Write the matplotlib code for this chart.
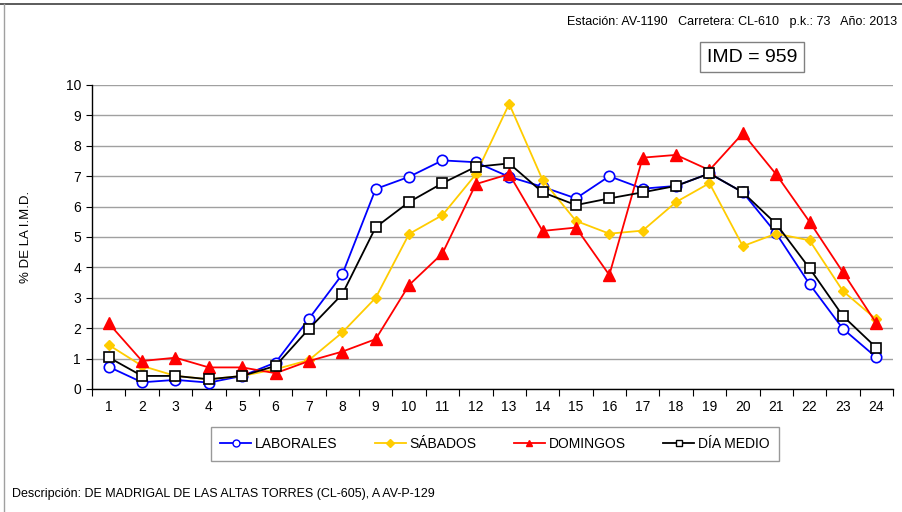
import matplotlib
matplotlib.use("Agg")
import matplotlib.pyplot as plt
from matplotlib.lines import Line2D

plt.rcParams['font.family'] = ['Liberation Sans', 'DejaVu Sans']

hours = list(range(1, 25))
hour_labels = [str(h) for h in hours]
laborales = [0.73, 0.22, 0.30, 0.21, 0.43, 0.87, 2.31, 3.77, 6.58, 6.98, 7.52, 7.46,
             6.98, 6.65, 6.27, 7.00, 6.59, 6.68, 7.09, 6.47, 5.12, 3.45, 1.98, 1.04]
sabados = [1.45, 0.76, 0.43, 0.32, 0.43, 0.65, 0.95, 1.86, 3.00, 5.10, 5.72, 7.06,
           9.38, 6.88, 5.53, 5.11, 5.21, 6.15, 6.77, 4.70, 5.11, 4.89, 3.22, 2.29]
domingos = [2.16, 0.92, 1.03, 0.71, 0.71, 0.52, 0.92, 1.23, 1.64, 3.42, 4.46, 6.74,
            7.07, 5.20, 5.31, 3.75, 7.61, 7.70, 7.20, 8.41, 7.06, 5.50, 3.84, 2.16]
dia_medio = [1.04, 0.43, 0.43, 0.32, 0.43, 0.76, 1.98, 3.12, 5.32, 6.15, 6.77, 7.31,
             7.42, 6.47, 6.05, 6.27, 6.47, 6.68, 7.09, 6.47, 5.43, 3.97, 2.40, 1.36]
y_ticks = list(range(0, 11))

fig = plt.figure(figsize=(9.02, 5.12), dpi=100)
ax = fig.add_axes([92/902, 1-389/512, (893-92)/902, (389-85)/512])

ax.plot(hours, laborales, color='#0000FF', lw=1.3, marker='o', ms=7.5,
        mfc='white', mec='#0000FF', mew=1.2, label='LABORALES', zorder=3)
ax.plot(hours, sabados, color='#FFCC00', lw=1.3, marker='D', ms=5.5,
        mfc='#FFCC00', mec='#FFCC00', label='SÁBADOS', zorder=3)
ax.plot(hours, domingos, color='#FF0000', lw=1.3, marker='^', ms=8,
        mfc='#FF0000', mec='#FF0000', label='DOMINGOS', zorder=3)
ax.plot(hours, dia_medio, color='black', lw=1.3, marker='s', ms=7.5,
        mfc='white', mec='black', mew=1.2, label='DÍA MEDIO', zorder=4)

ax.set_xlim(0.5, 24.5)
ax.set_ylim(0, 10)
ax.set_yticks(y_ticks)
ax.set_xticks(hours)
ax.set_xticklabels(hour_labels)
ax.set_xticks([h + 0.5 for h in [0] + hours], minor=True)
ax.tick_params(axis='x', which='major', length=0, pad=8, labelsize=10)
ax.tick_params(axis='x', which='minor', length=5, width=0.8, color='black')
ax.tick_params(axis='y', length=4, width=0.8, labelsize=10, pad=4)
ax.grid(axis='y', color='#A0A0A0', lw=1)
ax.set_axisbelow(True)
for s in ['top', 'right']:
    ax.spines[s].set_visible(False)
ax.spines['left'].set_linewidth(1)
ax.spines['bottom'].set_linewidth(1)
ax.set_ylabel('% DE LA I.M.D.', fontsize=9.5, labelpad=24)

handles = [
    Line2D([], [], color='#0000FF', lw=1.3, marker='o', ms=5, mfc='white', mec='#0000FF'),
    Line2D([], [], color='#FFCC00', lw=1.3, marker='D', ms=4, mfc='#FFCC00', mec='#FFCC00'),
    Line2D([], [], color='#FF0000', lw=1.3, marker='^', ms=5, mfc='#FF0000', mec='#FF0000'),
    Line2D([], [], color='black', lw=1.3, marker='s', ms=5, mfc='white', mec='black'),
]
leg = fig.legend(handles, ['LABORALES', 'SÁBADOS', 'DOMINGOS', 'DÍA MEDIO'],
                 loc='center', bbox_to_anchor=((209+781)/2/902, 1-444/512),
                 ncol=4, frameon=True, fancybox=False, fontsize=10,
                 handlelength=2.2, handletextpad=0.3, columnspacing=2.7,
                 borderpad=0.7)
leg.get_frame().set_edgecolor('#808080')
leg.get_frame().set_linewidth(1)

fig.text(897/902, 1-22/512, 'Estación: AV-1190   Carretera: CL-610   p.k.: 73   Año: 2013',
         ha='right', va='center', fontsize=9)
fig.text(752/902, 1-57/512, 'IMD = 959', ha='center', va='center', fontsize=14,
         bbox=dict(boxstyle='square,pad=0.35', fc='white', ec='#808080', lw=1))
fig.text(12/902, 1-494/512, 'Descripción: DE MADRIGAL DE LAS ALTAS TORRES (CL-605), A AV-P-129',
         ha='left', va='center', fontsize=9)

fig.add_artist(Line2D([0, 1], [1-4/512, 1-4/512], color='#404040', lw=1.2, transform=fig.transFigure))
fig.add_artist(Line2D([4/902, 4/902], [0, 1-4/512], color='#A0A0A0', lw=1, transform=fig.transFigure))

fig.savefig('out.png', dpi=100)
